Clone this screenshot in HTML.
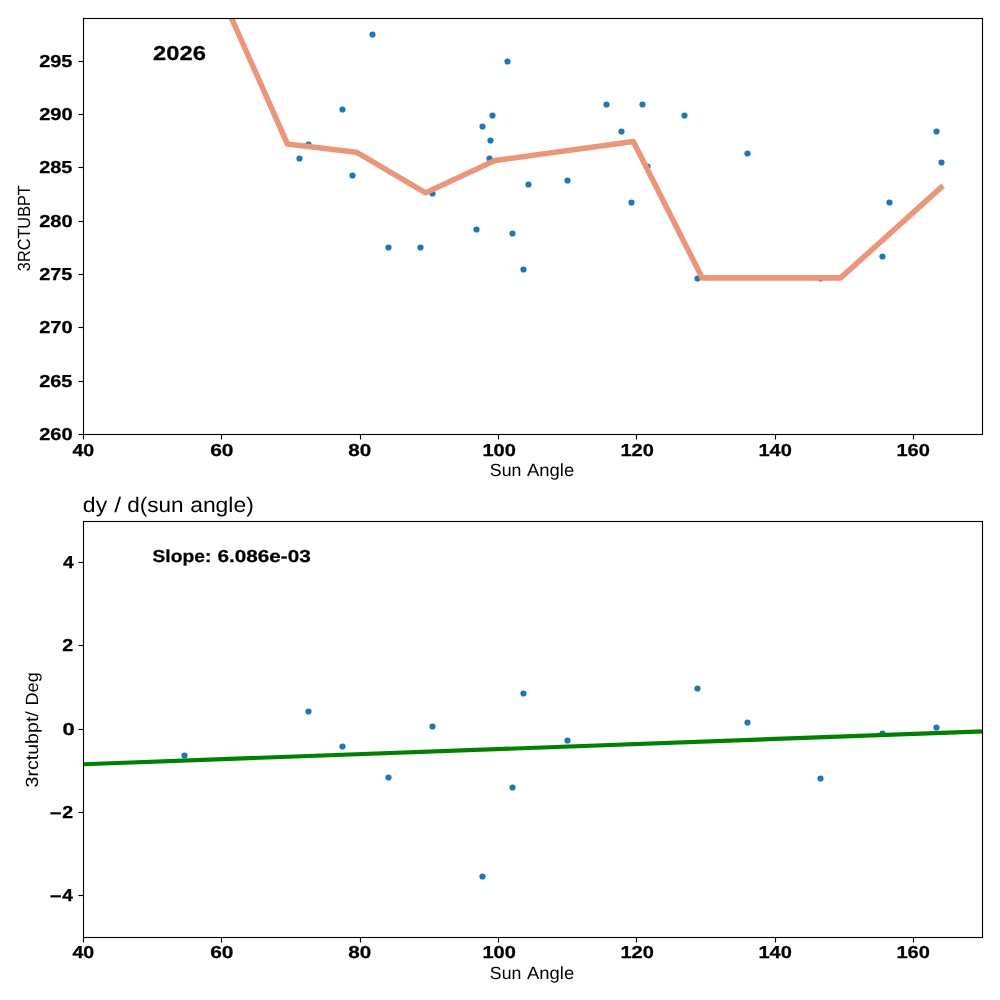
<!DOCTYPE html>
<html lang="en"><head><meta charset="utf-8"><title>Sun Angle plots</title>
<style>html,body{margin:0;padding:0;background:#fff}body{width:1000px;height:1000px;overflow:hidden;font-family:"Liberation Sans",sans-serif}svg{display:block;will-change:transform}text{font-family:"Liberation Sans",sans-serif;fill:#000;text-rendering:geometricPrecision}</style>
</head><body>
<svg width="1000" height="1000" viewBox="0 0 1000 1000">
<rect x="0" y="0" width="1000" height="1000" fill="#ffffff"/>
<defs><clipPath id="c1"><rect x="83.45" y="18.50" width="899.05" height="416.00"/></clipPath><clipPath id="c2"><rect x="83.45" y="521.10" width="899.05" height="416.00"/></clipPath></defs>
<g clip-path="url(#c1)">
<g fill="#1f77b4">
<circle cx="372.5" cy="34.5" r="3.11"/>
<circle cx="342.5" cy="109.5" r="3.11"/>
<circle cx="308.5" cy="144.5" r="3.11"/>
<circle cx="299.5" cy="158.5" r="3.11"/>
<circle cx="352.5" cy="175.5" r="3.11"/>
<circle cx="432.5" cy="193.5" r="3.11"/>
<circle cx="492.5" cy="115.5" r="3.11"/>
<circle cx="482.5" cy="126.5" r="3.11"/>
<circle cx="490.5" cy="140.5" r="3.11"/>
<circle cx="489.5" cy="158.5" r="3.11"/>
<circle cx="528.5" cy="184.5" r="3.11"/>
<circle cx="567.5" cy="180.5" r="3.11"/>
<circle cx="476.5" cy="229.5" r="3.11"/>
<circle cx="512.5" cy="233.5" r="3.11"/>
<circle cx="388.5" cy="247.5" r="3.11"/>
<circle cx="420.5" cy="247.5" r="3.11"/>
<circle cx="523.5" cy="269.5" r="3.11"/>
<circle cx="507.5" cy="61.5" r="3.11"/>
<circle cx="606.5" cy="104.5" r="3.11"/>
<circle cx="642.5" cy="104.5" r="3.11"/>
<circle cx="621.5" cy="131.5" r="3.11"/>
<circle cx="647.5" cy="166.5" r="3.11"/>
<circle cx="631.5" cy="202.5" r="3.11"/>
<circle cx="684.5" cy="115.5" r="3.11"/>
<circle cx="747.5" cy="153.5" r="3.11"/>
<circle cx="697.5" cy="278.5" r="3.11"/>
<circle cx="936.5" cy="131.5" r="3.11"/>
<circle cx="941.5" cy="162.5" r="3.11"/>
<circle cx="889.5" cy="202.5" r="3.11"/>
<circle cx="882.5" cy="256.5" r="3.11"/>
<circle cx="820.5" cy="278.5" r="3.11"/>
</g>
<polyline fill="none" stroke="#e9967a" stroke-width="5.56" stroke-linejoin="round" stroke-linecap="square" points="218.4,-11.5 287.4,144.0 356.4,152.2 425.7,192.8 494.9,160.5 633.3,141.6 702.2,277.9 840.6,277.9 941.0,187.5"/>
</g>
<g clip-path="url(#c2)">
<g fill="#1f77b4">
<circle cx="184.5" cy="755.5" r="3.11"/>
<circle cx="308.5" cy="711.5" r="3.11"/>
<circle cx="342.5" cy="746.5" r="3.11"/>
<circle cx="388.5" cy="777.5" r="3.11"/>
<circle cx="432.5" cy="726.5" r="3.11"/>
<circle cx="523.5" cy="693.5" r="3.11"/>
<circle cx="567.5" cy="740.5" r="3.11"/>
<circle cx="512.5" cy="787.5" r="3.11"/>
<circle cx="482.5" cy="876.5" r="3.11"/>
<circle cx="697.5" cy="688.5" r="3.11"/>
<circle cx="747.5" cy="722.5" r="3.11"/>
<circle cx="820.5" cy="778.5" r="3.11"/>
<circle cx="882.5" cy="733.5" r="3.11"/>
<circle cx="936.5" cy="727.5" r="3.11"/>
</g>
<line x1="83.45" y1="764.27" x2="982.50" y2="731.36" stroke="#008000" stroke-width="4.17" stroke-linecap="square"/>
</g>
<g fill="none" stroke="#000" stroke-width="1.11" stroke-linecap="square">
<rect x="83.50" y="18.50" width="899.00" height="416.00"/>
<rect x="83.50" y="521.50" width="899.00" height="416.00"/>
</g>
<g stroke="#000" stroke-width="1.11" stroke-linecap="butt">
<line x1="83.50" y1="434.50" x2="83.50" y2="439.50"/>
<line x1="83.50" y1="937.50" x2="83.50" y2="942.50"/>
<line x1="221.50" y1="434.50" x2="221.50" y2="439.50"/>
<line x1="221.50" y1="937.50" x2="221.50" y2="942.50"/>
<line x1="360.50" y1="434.50" x2="360.50" y2="439.50"/>
<line x1="360.50" y1="937.50" x2="360.50" y2="942.50"/>
<line x1="498.50" y1="434.50" x2="498.50" y2="439.50"/>
<line x1="498.50" y1="937.50" x2="498.50" y2="942.50"/>
<line x1="636.50" y1="434.50" x2="636.50" y2="439.50"/>
<line x1="636.50" y1="937.50" x2="636.50" y2="942.50"/>
<line x1="775.50" y1="434.50" x2="775.50" y2="439.50"/>
<line x1="775.50" y1="937.50" x2="775.50" y2="942.50"/>
<line x1="913.50" y1="434.50" x2="913.50" y2="439.50"/>
<line x1="913.50" y1="937.50" x2="913.50" y2="942.50"/>
<line x1="78.50" y1="434.50" x2="83.50" y2="434.50"/>
<line x1="78.50" y1="381.50" x2="83.50" y2="381.50"/>
<line x1="78.50" y1="327.50" x2="83.50" y2="327.50"/>
<line x1="78.50" y1="274.50" x2="83.50" y2="274.50"/>
<line x1="78.50" y1="221.50" x2="83.50" y2="221.50"/>
<line x1="78.50" y1="167.50" x2="83.50" y2="167.50"/>
<line x1="78.50" y1="114.50" x2="83.50" y2="114.50"/>
<line x1="78.50" y1="61.50" x2="83.50" y2="61.50"/>
<line x1="78.50" y1="562.50" x2="83.50" y2="562.50"/>
<line x1="78.50" y1="645.50" x2="83.50" y2="645.50"/>
<line x1="78.50" y1="729.50" x2="83.50" y2="729.50"/>
<line x1="78.50" y1="812.50" x2="83.50" y2="812.50"/>
<line x1="78.50" y1="895.50" x2="83.50" y2="895.50"/>
</g>
<g>
<text transform="translate(39.17,440.00) scale(1.1640,1)" font-size="17.3" font-weight="bold" stroke="#000" stroke-width="0.25">260</text>
<text transform="translate(39.17,387.00) scale(1.1536,1)" font-size="17.3" font-weight="bold" stroke="#000" stroke-width="0.25">265</text>
<text transform="translate(39.17,333.00) scale(1.1640,1)" font-size="17.3" font-weight="bold" stroke="#000" stroke-width="0.25">270</text>
<text transform="translate(39.17,280.00) scale(1.1536,1)" font-size="17.3" font-weight="bold" stroke="#000" stroke-width="0.25">275</text>
<text transform="translate(39.17,227.00) scale(1.1640,1)" font-size="17.3" font-weight="bold" stroke="#000" stroke-width="0.25">280</text>
<text transform="translate(39.17,173.00) scale(1.1536,1)" font-size="17.3" font-weight="bold" stroke="#000" stroke-width="0.25">285</text>
<text transform="translate(39.17,120.00) scale(1.1640,1)" font-size="17.3" font-weight="bold" stroke="#000" stroke-width="0.25">290</text>
<text transform="translate(39.17,67.00) scale(1.1536,1)" font-size="17.3" font-weight="bold" stroke="#000" stroke-width="0.25">295</text>
</g>
<g>
<text transform="translate(63.11,568.00) scale(1.1211,1)" font-size="17.3" font-weight="bold" stroke="#000" stroke-width="0.25">4</text>
<text transform="translate(62.18,651.00) scale(1.1353,1)" font-size="17.3" font-weight="bold" stroke="#000" stroke-width="0.25">2</text>
<text transform="translate(62.61,735.00) scale(1.2765,1)" font-size="17.3" font-weight="bold" stroke="#000" stroke-width="0.25">0</text>
<text transform="translate(49.86,818.90) scale(1.1831,1)" font-size="17.3" font-weight="bold" stroke="#000" stroke-width="0.25">−</text>
<text transform="translate(62.18,818.00) scale(1.1353,1)" font-size="17.3" font-weight="bold" stroke="#000" stroke-width="0.25">2</text>
<text transform="translate(49.86,901.90) scale(1.1831,1)" font-size="17.3" font-weight="bold" stroke="#000" stroke-width="0.25">−</text>
<text transform="translate(62.36,901.00) scale(1.1053,1)" font-size="17.3" font-weight="bold" stroke="#000" stroke-width="0.25">4</text>
</g>
<g>
<text transform="translate(72.46,456.00) scale(1.1351,1)" font-size="17.3" font-weight="bold" stroke="#000" stroke-width="0.25">40</text>
<text transform="translate(210.14,456.00) scale(1.2138,1)" font-size="17.3" font-weight="bold" stroke="#000" stroke-width="0.25">60</text>
<text transform="translate(348.25,456.00) scale(1.1945,1)" font-size="17.3" font-weight="bold" stroke="#000" stroke-width="0.25">80</text>
<text transform="translate(482.44,456.00) scale(1.1615,1)" font-size="17.3" font-weight="bold" stroke="#000" stroke-width="0.25">100</text>
<text transform="translate(620.44,456.00) scale(1.1615,1)" font-size="17.3" font-weight="bold" stroke="#000" stroke-width="0.25">120</text>
<text transform="translate(758.44,456.00) scale(1.1615,1)" font-size="17.3" font-weight="bold" stroke="#000" stroke-width="0.25">140</text>
<text transform="translate(896.44,456.00) scale(1.1615,1)" font-size="17.3" font-weight="bold" stroke="#000" stroke-width="0.25">160</text>
</g>
<g>
<text transform="translate(72.46,958.00) scale(1.1351,1)" font-size="17.3" font-weight="bold" stroke="#000" stroke-width="0.25">40</text>
<text transform="translate(210.14,958.00) scale(1.2138,1)" font-size="17.3" font-weight="bold" stroke="#000" stroke-width="0.25">60</text>
<text transform="translate(348.25,958.00) scale(1.1945,1)" font-size="17.3" font-weight="bold" stroke="#000" stroke-width="0.25">80</text>
<text transform="translate(482.44,958.00) scale(1.1615,1)" font-size="17.3" font-weight="bold" stroke="#000" stroke-width="0.25">100</text>
<text transform="translate(620.44,958.00) scale(1.1615,1)" font-size="17.3" font-weight="bold" stroke="#000" stroke-width="0.25">120</text>
<text transform="translate(758.44,958.00) scale(1.1615,1)" font-size="17.3" font-weight="bold" stroke="#000" stroke-width="0.25">140</text>
<text transform="translate(896.44,958.00) scale(1.1615,1)" font-size="17.3" font-weight="bold" stroke="#000" stroke-width="0.25">160</text>
</g>
<g>
<text transform="translate(489.87,476.00) scale(1.0026,1)" font-size="17.66" font-weight="normal">Sun</text>
<text transform="translate(527.00,476.00) scale(1.0456,1)" font-size="17.66" font-weight="normal">Angle</text>
</g>
<g>
<text transform="translate(489.87,979.00) scale(1.0026,1)" font-size="17.66" font-weight="normal">Sun</text>
<text transform="translate(527.00,979.00) scale(1.0456,1)" font-size="17.66" font-weight="normal">Angle</text>
</g>
<text transform="translate(153.06,60.00) scale(1.1816,1)" font-size="20.1" font-weight="bold" stroke="#000" stroke-width="0.25">2026</text>
<g>
<text transform="translate(82.85,512.00) scale(1.0854,1)" font-size="21.2" font-weight="normal">dy</text>
<text transform="translate(114.20,512.00) scale(1.1574,1)" font-size="21.2" font-weight="normal">/</text>
<text transform="translate(127.22,512.00) scale(1.0631,1)" font-size="21.2" font-weight="normal">d(sun</text>
<text transform="translate(190.15,512.00) scale(1.0802,1)" font-size="21.2" font-weight="normal">angle)</text>
</g>
<g>
<text transform="translate(152.53,562.00) scale(1.1135,1)" font-size="17.3" font-weight="bold" stroke="#000" stroke-width="0.25">Slope:</text>
<text transform="translate(217.40,562.00) scale(1.1993,1)" font-size="17.3" font-weight="bold" stroke="#000" stroke-width="0.25">6.086e-03</text>
</g>
<text transform="translate(30.00,271.18) rotate(-90) scale(0.9227,1)" font-size="17.66" font-weight="normal">3RCTUBPT</text>
<g>
<text transform="translate(38.00,787.39) rotate(-90) scale(1.1083,1)" font-size="17.66" font-weight="normal">3rctubpt/</text>
<text transform="translate(38.00,705.54) rotate(-90) scale(1.0269,1)" font-size="17.66" font-weight="normal">Deg</text>
</g>
</svg>
</body></html>
